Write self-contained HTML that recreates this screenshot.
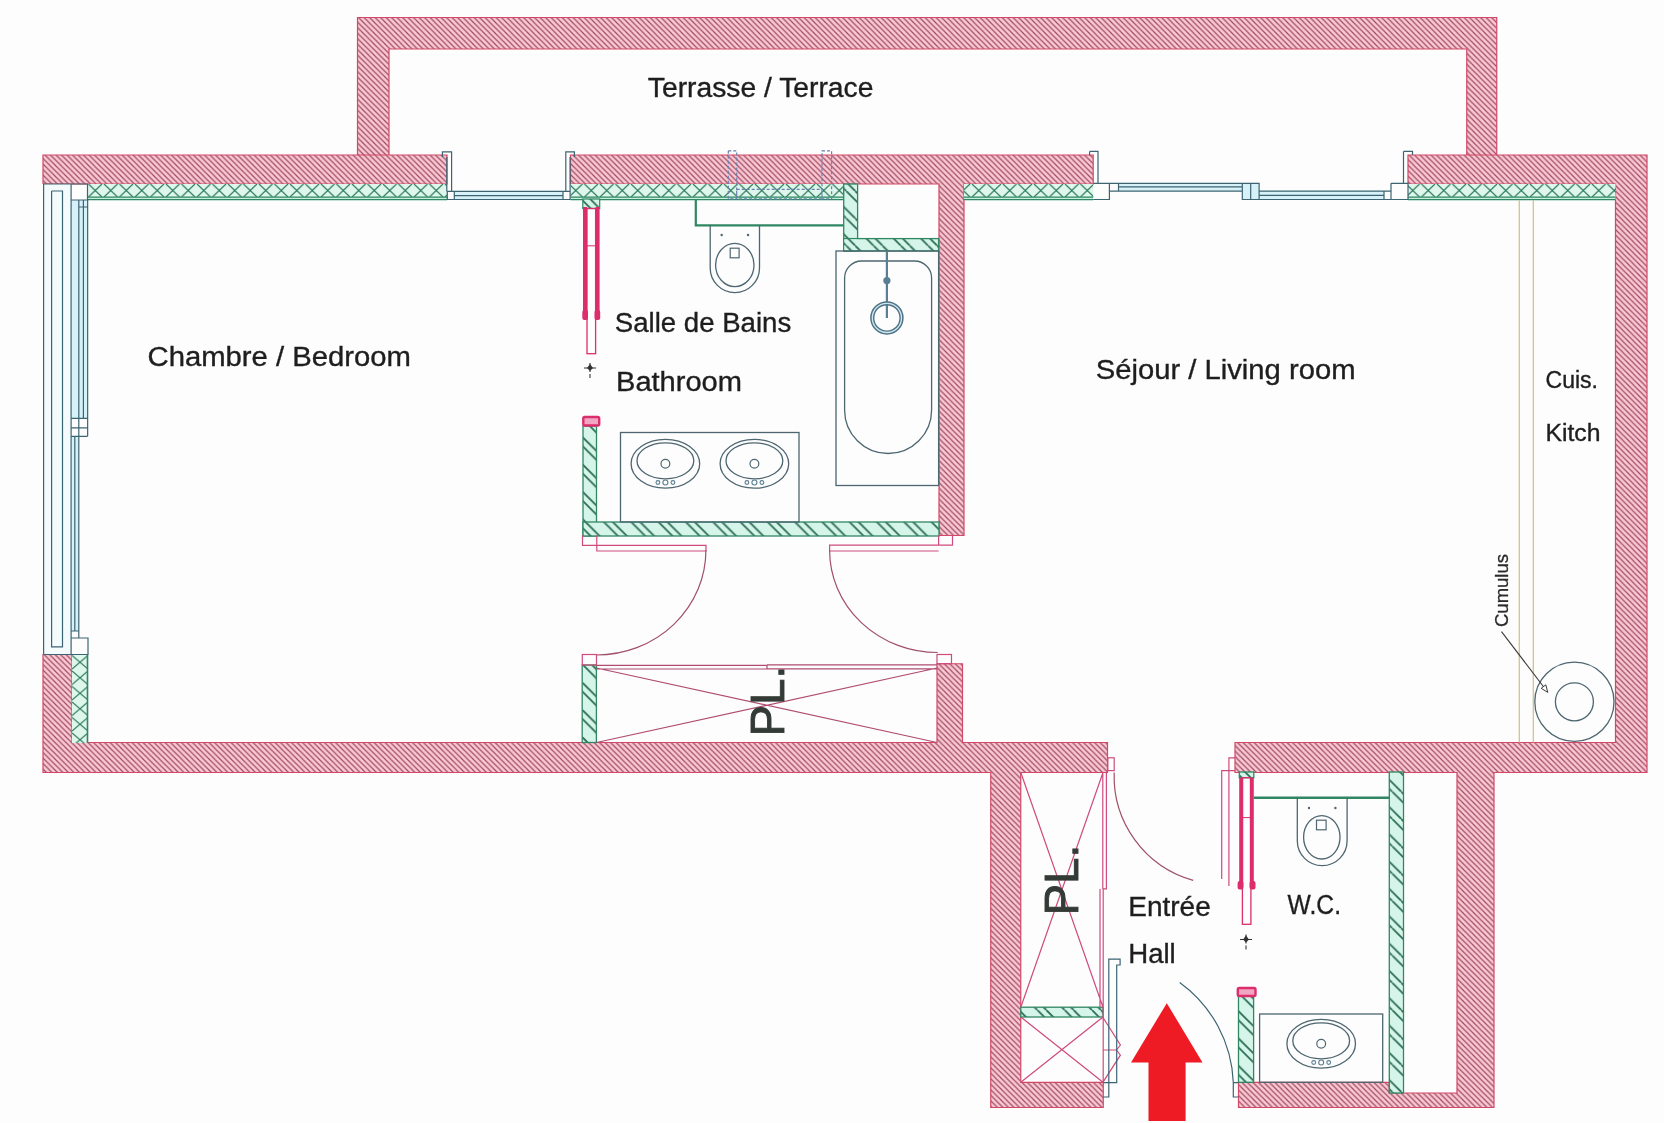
<!DOCTYPE html>
<html><head><meta charset="utf-8"><style>
html,body{margin:0;padding:0;background:#fdfdfd;}
svg{display:block;will-change:transform;}
text{font-family:"Liberation Sans",sans-serif;}
</style></head><body>
<svg width="1664" height="1123" viewBox="0 0 1664 1123">
<rect width="1664" height="1123" fill="#fdfdfd"/>
<defs>
<pattern id="hr" patternUnits="userSpaceOnUse" width="5.5" height="5.5">
<rect width="5.5" height="5.5" fill="#fac8d3"/>
<path d="M0,0L5.5,5.5M-2.75,2.75L2.75,8.25M2.75,-2.75L8.25,2.75" stroke="#9e4a62" stroke-width="1.2"/>
</pattern>
<pattern id="gx" patternUnits="userSpaceOnUse" width="15.5" height="13" y="184" x="87.5">
<rect width="15.5" height="13" fill="#def6ec"/>
<path d="M1,0L14.5,13M14.5,0L1,13" stroke="#2f7d5c" stroke-width="1.2"/>
</pattern>
<pattern id="gxv" patternUnits="userSpaceOnUse" width="16" height="15.5" x="72" y="654.5">
<rect width="16" height="15.5" fill="#def6ec"/>
<path d="M0,1L16,14.5M0,14.5L16,1" stroke="#2f7d5c" stroke-width="1.2"/>
</pattern>
<pattern id="gh" patternUnits="userSpaceOnUse" width="27.3" height="27.3">
<rect width="27.3" height="27.3" fill="#d6f5ea"/>
<path d="M-54.60,0L-27.30,27.3M-45.60,0L-18.30,27.3M-27.30,0L0.00,27.3M-18.30,0L9.00,27.3M0.00,0L27.30,27.3M9.00,0L36.30,27.3M27.30,0L54.60,27.3M36.30,0L63.60,27.3" stroke="#2d6e55" stroke-width="1.8"/>
</pattern>
</defs>
<g>
<path d="M357.5,17.5H1496.75V49H357.5ZM357.5,49H389V155.5H357.5ZM1466.75,49H1496.75V155.5H1466.75ZM43,155H447V184H43ZM570.5,155H1093.2V184H570.5ZM1408,155H1647V184H1408ZM43,654.5H72V772.5H43ZM1615.5,184H1647V772.5H1615.5ZM43,742.5H1107.5V772.5H43ZM1235,742.5H1647V772.5H1235ZM939,184H964V535.5H939ZM937,663.75H962.5V742.5H937ZM990.75,772H1020.75V1107.5H990.75ZM990.75,1082.3H1103.25V1107.5H990.75ZM1457,772H1494V1107.5H1457ZM1238.5,1082.3H1389.3V1107.5H1238.5ZM1389.3,1093H1494V1107.5H1389.3Z" fill="url(#hr)" fill-rule="nonzero"/>
</g>
<path d="M357.5,155V17.5H1496.75V155 M389,155V49H1466.75V155 M43,184V155H447V184H43 M570.5,184V155H1093.2V184H964V535.5H939V184H570.5 M1408,184V155H1647V772.5H1494V1107.5H1238.5V1082.3H1389.3V1093H1457V772.5H1235V742.5H1615.5V184H1408 M1103.25,1082.3V1107.5H990.75V772.5H43V654.5H72V742.5H937V663.75H962.5V742.5H1107.5V772.5H1020.75V1082.3H1103.25" fill="none" stroke="#d24866" stroke-width="1.2"/>
<rect x="87.5" y="184.0" width="359.5" height="13.0" fill="url(#gx)"/>
<rect x="87.5" y="197.0" width="359.5" height="3.0" fill="#c8eedd"/>
<path d="M87.5,197.2H447M87.5,199.6H447" stroke="#2f8763" stroke-width="1.2"/>
<rect x="570.5" y="184.0" width="273.2" height="13.0" fill="url(#gx)"/>
<rect x="570.5" y="197.0" width="273.2" height="3.0" fill="#c8eedd"/>
<path d="M570.5,197.2H843.7M570.5,199.6H843.7" stroke="#2f8763" stroke-width="1.2"/>
<rect x="964.0" y="184.0" width="129.2" height="13.0" fill="url(#gx)"/>
<rect x="964.0" y="197.0" width="129.2" height="3.0" fill="#c8eedd"/>
<path d="M964,197.2H1093.2M964,199.6H1093.2" stroke="#2f8763" stroke-width="1.2"/>
<rect x="1408.0" y="184.0" width="207.5" height="13.0" fill="url(#gx)"/>
<rect x="1408.0" y="197.0" width="207.5" height="3.0" fill="#c8eedd"/>
<path d="M1408,197.2H1615.5M1408,199.6H1615.5" stroke="#2f8763" stroke-width="1.2"/>
<rect x="72.0" y="654.5" width="16.0" height="88.5" fill="url(#gxv)"/>
<path d="M87.5,654.5V743" stroke="#2f8763" stroke-width="1.6"/>
<rect x="43.5" y="184.0" width="28.0" height="470.5" fill="#f4fbfd"/>
<rect x="71.5" y="200.0" width="16.0" height="218.4" fill="#d6f1f7"/>
<rect x="71.5" y="436.3" width="7.3" height="194.7" fill="#d6f1f7"/>
<path d="M43.6,184V654.5M71.1,184V654.5H43.6M51.6,191V646.8H62.5V191H51.6M43.6,184H87.5V200H71.1M78.8,200V631M83.4,200V418.4M87.65,200V436.3M71.1,418.4H87.65M71.1,427.8H87.65M71.1,436.3H87.65M74.8,436.3V631M71.1,631H78.8V638M71.1,638H88V654.5H71.1M71.1,200H87.65V207M78.8,207H87.65" fill="none" stroke="#3d6472" stroke-width="1.2"/>
<rect x="454.3" y="191.4" width="108.7" height="8.1" fill="#d6f1f7"/>
<path d="M442.4,157V151.9H451.6V191.4M446.8,157V191.4M447.3,191.4H454.3V199.5H447.3ZM454.3,191.4H563M454.3,195.7H563M454.3,199.5H563M563,191.4H570.1V199.5H563ZM574.4,157V151.9H565.8V191.4M570.1,157V191.4" fill="none" stroke="#3d6472" stroke-width="1.2"/>
<rect x="1118.5" y="183.3" width="123.8" height="7.8" fill="#d6f1f7"/>
<rect x="1259.1" y="191.1" width="124.9" height="8.4" fill="#d6f1f7"/>
<rect x="1242.3" y="183.3" width="16.8" height="16.2" fill="#d6f1f7"/>
<path d="M1089.6,151.4H1098V183.3M1089.6,151.4V155M1093.2,183.3H1109.4V199.5H1093.2M1109.4,183.3H1118.5V191.1H1109.4M1118.5,183.3H1242.3M1118.5,186.9H1242.3M1118.5,191.1H1242.3M1242.3,183.3H1259.1V199.5H1242.3ZM1250.7,183.3V199.5M1259.1,191.1H1391M1259.1,195.3H1384M1259.1,199.5H1408M1384,191.1V199.5M1391,183.3H1408V199.5M1391,183.3V199.5M1403.5,151.4H1412.5V155M1403.5,151.4V183.3" fill="none" stroke="#3d6472" stroke-width="1.2"/>
<path d="M728.3,150.8H736.7V198.9H728.3ZM822,150.8H831.6V198.9H822ZM736.7,189.3H822V198.9H736.7Z" fill="none" stroke="#6a7fb0" stroke-width="1.2" stroke-dasharray="3,2"/>
<rect x="583.0" y="426.0" width="13.5" height="110.0" fill="url(#gh)" stroke="#2f8763" stroke-width="1.3"/>
<rect x="583.0" y="522.0" width="356.0" height="14.0" fill="url(#gh)" stroke="#2f8763" stroke-width="1.3"/>
<rect x="843.7" y="184.0" width="13.9" height="67.0" fill="url(#gh)" stroke="#2f8763" stroke-width="1.3"/>
<rect x="843.7" y="238.6" width="94.9" height="12.4" fill="url(#gh)" stroke="#2f8763" stroke-width="1.3"/>
<rect x="582.2" y="665.0" width="14.2" height="77.5" fill="url(#gh)" stroke="#2f8763" stroke-width="1.3"/>
<rect x="1020.8" y="1007.2" width="82.2" height="9.8" fill="url(#gh)" stroke="#2f8763" stroke-width="1.3"/>
<rect x="1238.5" y="996.0" width="15.1" height="86.3" fill="url(#gh)" stroke="#2f8763" stroke-width="1.3"/>
<rect x="1389.3" y="772.0" width="14.2" height="321.0" fill="url(#gh)" stroke="#2f8763" stroke-width="1.3"/>
<rect x="1239.3" y="772.0" width="14.5" height="5.7" fill="url(#gh)" stroke="#2f8763" stroke-width="1.3"/>
<rect x="584.0" y="523.0" width="11.5" height="12.0" fill="url(#gh)"/>
<rect x="844.5" y="239.5" width="12.3" height="10.5" fill="url(#gh)"/>
<path d="M695.8,199V225.3H843.7" fill="none" stroke="#2f8763" stroke-width="2.2"/>
<path d="M1253.8,797.7H1389.3" fill="none" stroke="#2f8763" stroke-width="2.4"/>
<path d="M710.2,225.3V267.95000000000005A24.65,24.65 0 0 0 759.5,267.95000000000005V225.3" fill="none" stroke="#4d6670" stroke-width="1.3"/><ellipse cx="734.8" cy="265" rx="19.2" ry="21.6" fill="none" stroke="#4d6670" stroke-width="1.3"/><rect x="730.2" y="248.2" width="8.9" height="9.6" fill="none" stroke="#4d6670" stroke-width="1.2"/><circle cx="721.65" cy="235" r="1.2" fill="#4d6670"/><circle cx="748.0500000000001" cy="235" r="1.2" fill="#4d6670"/>
<path d="M1297.3,797.7V840.8000000000001A24.9,24.9 0 0 0 1347.1000000000001,840.8000000000001V797.7" fill="none" stroke="#4d6670" stroke-width="1.3"/><ellipse cx="1321.8" cy="837.3" rx="18.2" ry="21.7" fill="none" stroke="#4d6670" stroke-width="1.3"/><rect x="1316.5" y="820.2" width="9.6" height="9.6" fill="none" stroke="#4d6670" stroke-width="1.2"/><circle cx="1309.0" cy="808" r="1.2" fill="#4d6670"/><circle cx="1335.4" cy="808" r="1.2" fill="#4d6670"/>
<rect x="836.0" y="251.0" width="102.6" height="234.5" fill="none" stroke="#4d6670" stroke-width="1.3"/>
<path d="M844.6,410V278A17,17 0 0 1 861.6,261H914.6A17,17 0 0 1 931.6,278V410A43.5,43.5 0 0 1 844.6,410Z" fill="none" stroke="#4d6670" stroke-width="1.3"/>
<path d="M886.9,251V318" stroke="#5a7e94" stroke-width="2.2"/>
<circle cx="886.9" cy="280.6" r="3.6" fill="#5a7e94"/>
<circle cx="886.9" cy="317.9" r="14.6" fill="none" stroke="#cfe6ef" stroke-width="2.6"/><circle cx="886.9" cy="317.9" r="16" fill="none" stroke="#4e7386" stroke-width="1.5"/><circle cx="886.9" cy="317.9" r="13.2" fill="none" stroke="#4e7386" stroke-width="1.4"/>
<rect x="620.5" y="432.5" width="178.5" height="89.5" fill="none" stroke="#4d6670" stroke-width="1.3"/>
<ellipse cx="665.4" cy="463.8" rx="34.3" ry="24.4" fill="none" stroke="#4d6670" stroke-width="1.3"/><ellipse cx="665.4" cy="460.8" rx="28.4" ry="18" fill="none" stroke="#4d6670" stroke-width="1.3"/><circle cx="665.4" cy="463.8" r="4.4" fill="none" stroke="#4d6670" stroke-width="1.2"/><circle cx="657.9" cy="482.5" r="1.9" fill="none" stroke="#5a7e94" stroke-width="1.1"/><circle cx="665.4" cy="482.5" r="2.5" fill="none" stroke="#5a7e94" stroke-width="1.1"/><circle cx="672.9" cy="482.5" r="1.9" fill="none" stroke="#5a7e94" stroke-width="1.1"/>
<ellipse cx="754.4" cy="463.8" rx="34.3" ry="24.4" fill="none" stroke="#4d6670" stroke-width="1.3"/><ellipse cx="754.4" cy="460.8" rx="28.4" ry="18" fill="none" stroke="#4d6670" stroke-width="1.3"/><circle cx="754.4" cy="463.8" r="4.4" fill="none" stroke="#4d6670" stroke-width="1.2"/><circle cx="746.9" cy="482.5" r="1.9" fill="none" stroke="#5a7e94" stroke-width="1.1"/><circle cx="754.4" cy="482.5" r="2.5" fill="none" stroke="#5a7e94" stroke-width="1.1"/><circle cx="761.9" cy="482.5" r="1.9" fill="none" stroke="#5a7e94" stroke-width="1.1"/>
<rect x="1259.6" y="1014.0" width="123.1" height="68.3" fill="none" stroke="#4d6670" stroke-width="1.3"/>
<ellipse cx="1321.2" cy="1043.8" rx="34.3" ry="24.4" fill="none" stroke="#4d6670" stroke-width="1.3"/><ellipse cx="1321.2" cy="1040.8" rx="28.4" ry="18" fill="none" stroke="#4d6670" stroke-width="1.3"/><circle cx="1321.2" cy="1043.8" r="4.4" fill="none" stroke="#4d6670" stroke-width="1.2"/><circle cx="1313.7" cy="1062.5" r="1.9" fill="none" stroke="#5a7e94" stroke-width="1.1"/><circle cx="1321.2" cy="1062.5" r="2.5" fill="none" stroke="#5a7e94" stroke-width="1.1"/><circle cx="1328.7" cy="1062.5" r="1.9" fill="none" stroke="#5a7e94" stroke-width="1.1"/>
<path d="M1519.3,200V742.5M1533.3,200V742.5" stroke="#d6c08e" stroke-width="1.3"/>
<circle cx="1574.4" cy="701.8" r="39.6" fill="none" stroke="#4d6670" stroke-width="1.3"/><circle cx="1574.4" cy="701.8" r="19" fill="none" stroke="#4d6670" stroke-width="1.3"/>
<path d="M1501.5,631.6L1546.4,690.5" stroke="#3a3a3a" stroke-width="1.1"/><path d="M1541.2,688.3L1547.8,692.4L1545.8,684.8Z" fill="#fff" stroke="#3a3a3a" stroke-width="1"/>
<text transform="translate(1508,627) rotate(-90)" font-size="19" fill="#2a2a2a" stroke="#2a2a2a" stroke-width="0.3" textLength="73" lengthAdjust="spacingAndGlyphs">Cumulus</text>
<rect x="582.8" y="199.0" width="16.9" height="9.5" fill="url(#gh)" stroke="#2f8763" stroke-width="1.2"/>
<path d="M585,207V319M597.6,207V319" stroke="#dc2d6c" stroke-width="4"/>
<rect x="587.0" y="208.5" width="8.6" height="145.2" fill="none" stroke="#dc2d6c" stroke-width="1.3"/>
<path d="M587,245.8H595.6" stroke="#dc2d6c" stroke-width="1"/>
<rect x="582.3" y="310.0" width="5.7" height="10.0" fill="#dc2d6c" rx="2"/>
<rect x="594.5" y="310.0" width="5.7" height="10.0" fill="#dc2d6c" rx="2"/>
<rect x="583.3" y="417.0" width="15.9" height="8.5" fill="#f2a6c2" stroke="#dc2d6c" stroke-width="2.4" rx="1.5"/>
<path d="M584,368H596M590,363V372" stroke="#333" stroke-width="1.1"/><path d="M590,364L593,368L590,371L587,368Z" fill="#333"/><path d="M590,374V378" stroke="#555" stroke-width="1.3"/>
<path d="M1240,939.5H1252M1246,934.5V943.5" stroke="#333" stroke-width="1.1"/><path d="M1246,935.5L1249,939.5L1246,942.5L1243,939.5Z" fill="#333"/><path d="M1246,945.5V949.5" stroke="#555" stroke-width="1.3"/>
<path d="M582.5,535.3V545.3H596.8V535.3M596.8,545.3H706V551H596.8V545.3M938.6,535.3V545.2H952.5V535.3M938.6,545.2H829.6V551H938.6" fill="none" stroke="#cf4b7e" stroke-width="1.2"/>
<path d="M705.9,550.3A109.3,104.7 0 0 1 596.6,655M829.6,550.3A108.2,102.2 0 0 0 937.8,652.5" fill="none" stroke="#a05068" stroke-width="1.2"/>
<rect x="582.3" y="654.5" width="14.2" height="10.5" fill="none" stroke="#cf4b7e" stroke-width="1.2"/>
<rect x="937.0" y="654.5" width="14.5" height="9.2" fill="none" stroke="#cf4b7e" stroke-width="1.2"/>
<path d="M596.5,665.3H767M596.5,669H767M767,665.3V669M767,664.8H937M767,668.8H937M596.5,668L937,742.5M596.5,742.5L937,668" fill="none" stroke="#b04c72" stroke-width="1.2"/>
<text transform="translate(783.9,736.5) rotate(-90)" font-size="49" fill="#343b37" stroke="#343b37" stroke-width="0.9" textLength="71" lengthAdjust="spacingAndGlyphs">PL.</text>
<rect x="1107.8" y="757.8" width="6.4" height="12.8" fill="none" stroke="#cf4b7e" stroke-width="1.2"/>
<path d="M1102.8,772.5V888.9M1106.4,772.5V888.9H1103.2V1082.3M1100,888.9V1007.2M1020.8,772.5L1103,1007.2M1103,772.5L1020.8,1007.2M1020.8,1017L1103,1082.3M1103,1017L1020.8,1082.3M1103,1017.5L1120.4,1045L1116.5,1050H1103M1116.5,1050L1120.4,1055.2L1103,1082.2" fill="none" stroke="#cf4b7e" stroke-width="1.2"/>
<text transform="translate(1077.9,915.5) rotate(-90)" font-size="49" fill="#343b37" stroke="#343b37" stroke-width="0.9" textLength="71" lengthAdjust="spacingAndGlyphs">PL.</text>
<path d="M1114.2,772.5A108,108 0 0 0 1193.2,880.3" fill="none" stroke="#a05068" stroke-width="1.2"/>
<path d="M1103.25,1097H1108.8V959.2H1120.1V965H1116.7V1082.6H1103.25M1179.7,982.4A130,130 0 0 1 1233.3,1082.6V1097H1238.5M1233.3,1082.6H1238.5" fill="none" stroke="#3d6472" stroke-width="1.2"/>
<path d="M1221.7,878.9V770.6H1235M1228.9,886V757.8H1235" fill="none" stroke="#cf4b7e" stroke-width="1.2"/>
<path d="M1241.2,777.7V887M1251.8,777.7V887" stroke="#dc2d6c" stroke-width="4"/>
<rect x="1242.4" y="777.7" width="8.5" height="146.6" fill="none" stroke="#dc2d6c" stroke-width="1.3"/>
<path d="M1242.4,817.6H1250.9" stroke="#dc2d6c" stroke-width="1"/>
<rect x="1237.6" y="881.0" width="5.8" height="8.6" fill="#dc2d6c" rx="2"/>
<rect x="1249.6" y="881.0" width="5.9" height="8.6" fill="#dc2d6c" rx="2"/>
<rect x="1237.8" y="988.0" width="17.7" height="8.0" fill="#f2a6c2" stroke="#dc2d6c" stroke-width="2.4" rx="1.5"/>
<path d="M1166.8,1003.2L1202.5,1062.4H1185.6V1121H1148.5V1062.4H1131Z" fill="#ee1b24"/>
<text x="647.8" y="97" font-size="27" fill="#1e1e1e" stroke="#1e1e1e" stroke-width="0.35" textLength="225.6" lengthAdjust="spacingAndGlyphs">Terrasse / Terrace</text>
<text x="147.5" y="366" font-size="27" fill="#1e1e1e" stroke="#1e1e1e" stroke-width="0.35" textLength="263.5" lengthAdjust="spacingAndGlyphs">Chambre / Bedroom</text>
<text x="614.75" y="331.75" font-size="27" fill="#1e1e1e" stroke="#1e1e1e" stroke-width="0.35" textLength="176.5" lengthAdjust="spacingAndGlyphs">Salle de Bains</text>
<text x="616" y="390.5" font-size="27" fill="#1e1e1e" stroke="#1e1e1e" stroke-width="0.35" textLength="126" lengthAdjust="spacingAndGlyphs">Bathroom</text>
<text x="1095.75" y="378.75" font-size="27" fill="#1e1e1e" stroke="#1e1e1e" stroke-width="0.35" textLength="259.75" lengthAdjust="spacingAndGlyphs">Séjour / Living room</text>
<text x="1545.5" y="387.5" font-size="23" fill="#1e1e1e" stroke="#1e1e1e" stroke-width="0.35" textLength="52.5" lengthAdjust="spacingAndGlyphs">Cuis.</text>
<text x="1545.5" y="441" font-size="23" fill="#1e1e1e" stroke="#1e1e1e" stroke-width="0.35" textLength="55" lengthAdjust="spacingAndGlyphs">Kitch</text>
<text x="1128.25" y="916.25" font-size="27" fill="#1e1e1e" stroke="#1e1e1e" stroke-width="0.35" textLength="82.5" lengthAdjust="spacingAndGlyphs">Entrée</text>
<text x="1128.25" y="962.5" font-size="27" fill="#1e1e1e" stroke="#1e1e1e" stroke-width="0.35" textLength="47.5" lengthAdjust="spacingAndGlyphs">Hall</text>
<text x="1287.6" y="914.2" font-size="27" fill="#1e1e1e" stroke="#1e1e1e" stroke-width="0.35" textLength="53.4" lengthAdjust="spacingAndGlyphs">W.C.</text>
</svg></body></html>
